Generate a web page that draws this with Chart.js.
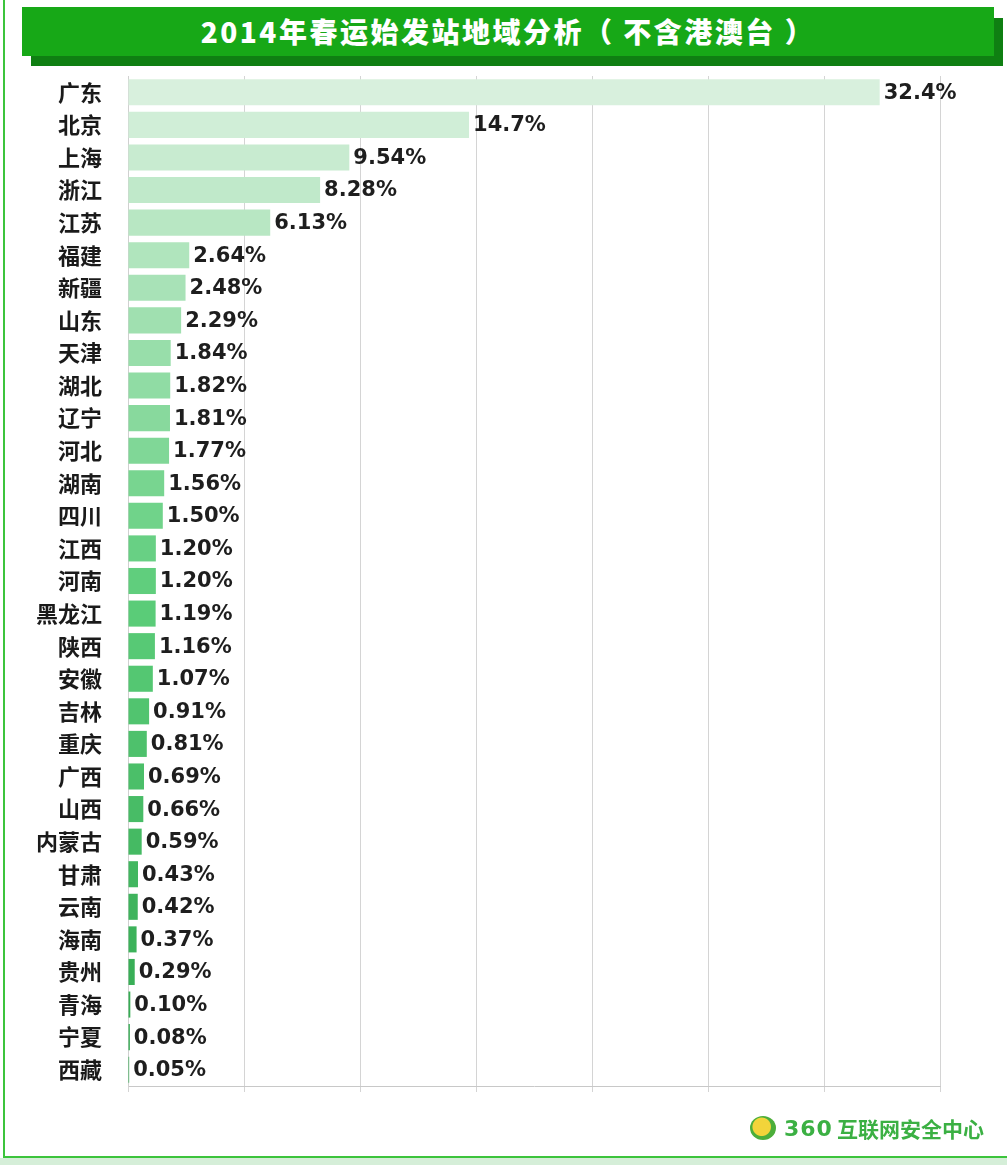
<!DOCTYPE html>
<html lang="zh">
<head>
<meta charset="UTF-8">
<title>2014年春运始发站地域分析</title>
<script src="https://cdn.jsdelivr.net/npm/chart.js"></script>
<style>
  html, body { margin: 0; padding: 0; background: #fff; }
  #page { position: relative; width: 1007px; height: 1165px; overflow: hidden; background: #fff; }
  .frame-left { position: absolute; left: 3px; top: 0; width: 2px; height: 1158px; background: #3cc43c; }
  .frame-bottom { position: absolute; left: 3px; top: 1156px; width: 1004px; height: 2px; background: #3cc43c; }
  .strip { position: absolute; left: 0; top: 1158px; width: 1007px; height: 7px; background: #d5eed8; }
  .banner-shadow { position: absolute; left: 31px; top: 18px; width: 972px; height: 48px; background: #0f7f12; }
  .banner { position: absolute; left: 22px; top: 7px; width: 972px; height: 49px; background: #17a817;
            color: #fff; font: 900 28px "Noto Sans CJK SC", sans-serif; text-align: center; line-height: 49px; letter-spacing: 2.5px; }
  #chartWrap { position: absolute; left: 0; top: 0; width: 1007px; height: 1165px; }
  .logo { position: absolute; left: 750px; top: 1114px; height: 28px; display: flex; align-items: center;
          font: bold 21px "Noto Sans CJK SC", sans-serif; color: #3bb043; }
  .logo .icon { width: 26px; height: 24px; border-radius: 50%; background: radial-gradient(circle at 45% 45%, #f2d43a 0 45%, #4cae3a 50% 100%); margin-right: 8px; }
  .logo .num { font-family: "DejaVu Sans", sans-serif; font-size: 22px; margin-right: 4px; letter-spacing: 1px; }
</style>
</head>
<body>
<div id="page">
  <div class="frame-left"></div>
  <div class="frame-bottom"></div>
  <div class="strip"></div>
  <div class="banner-shadow"></div>
  <div class="banner">2014年春运始发站地域分析（ 不含港澳台 ）</div>
  <div id="chartWrap"><canvas id="chart" width="1007" height="1165"></canvas></div>
  <div class="logo"><span class="icon"></span><span class="num">360</span><span>互联网安全中心</span></div>
</div>
<script>
const provinces = ['广东', '北京', '上海', '浙江', '江苏', '福建', '新疆', '山东', '天津', '湖北',
  '辽宁', '河北', '湖南', '四川', '江西', '河南', '黑龙江', '陕西', '安徽', '吉林',
  '重庆', '广西', '山西', '内蒙古', '甘肃', '云南', '海南', '贵州', '青海', '宁夏', '西藏'];
const shares = [32.4, 14.7, 9.54, 8.28, 6.13, 2.64, 2.48, 2.29, 1.84, 1.82,
  1.81, 1.77, 1.56, 1.50, 1.20, 1.20, 1.19, 1.16, 1.07, 0.91,
  0.81, 0.69, 0.66, 0.59, 0.43, 0.42, 0.37, 0.29, 0.10, 0.08, 0.05];
const shareLabels = ['32.4%', '14.7%', '9.54%', '8.28%', '6.13%', '2.64%', '2.48%', '2.29%', '1.84%', '1.82%',
  '1.81%', '1.77%', '1.56%', '1.50%', '1.20%', '1.20%', '1.19%', '1.16%', '1.07%', '0.91%',
  '0.81%', '0.69%', '0.66%', '0.59%', '0.43%', '0.42%', '0.37%', '0.29%', '0.10%', '0.08%', '0.05%'];

// light green at the top, darker green toward the bottom
function barColor(i, n) {
  const a = [216, 240, 221], b = [92, 205, 122], c = [45, 165, 75];
  let from, to, t;
  if (i < n / 2) { from = a; to = b; t = i / (n / 2); }
  else { from = b; to = c; t = (i - n / 2) / (n / 2); }
  const mix = from.map((v, k) => Math.round(v + (to[k] - v) * t));
  return 'rgb(' + mix.join(',') + ')';
}

const valueLabels = {
  id: 'valueLabels',
  afterDatasetsDraw(chart) {
    const ctx = chart.ctx;
    const meta = chart.getDatasetMeta(0);
    ctx.save();
    ctx.font = 'bold 21px "DejaVu Sans", sans-serif';
    ctx.fillStyle = '#1e1e1e';
    ctx.textAlign = 'left';
    ctx.textBaseline = 'middle';
    meta.data.forEach((bar, i) => {
      ctx.fillText(shareLabels[i], bar.x + 4, bar.y + 1);
    });
    ctx.restore();
  }
};

new Chart(document.getElementById('chart'), {
  type: 'bar',
  data: {
    labels: provinces,
    datasets: [{
      data: shares,
      backgroundColor: provinces.map((p, i) => barColor(i, provinces.length)),
      borderWidth: 0,
      categoryPercentage: 0.8,
      barPercentage: 1.0
    }]
  },
  options: {
    indexAxis: 'y',
    responsive: false,
    animation: false,
    layout: { padding: { left: 28, right: 67, top: 76, bottom: 73 } },
    plugins: { legend: { display: false }, tooltip: { enabled: false } },
    scales: {
      x: {
        min: 0, max: 35,
        ticks: { stepSize: 5, display: false },
        grid: { color: '#d4d4d4', lineWidth: 1, tickLength: 6, drawTicks: true },
        border: { color: '#c8c8c8' }
      },
      y: {
        afterFit(scale) { scale.width = 100; },
        ticks: {
          color: '#1a1a1a',
          padding: 18,
          font: { family: '"Noto Sans CJK SC", sans-serif', size: 22, weight: 'bold' }
        },
        grid: { display: false },
        border: { color: '#d0d0d0' }
      }
    }
  },
  plugins: [valueLabels]
});
</script>
</body>
</html>
